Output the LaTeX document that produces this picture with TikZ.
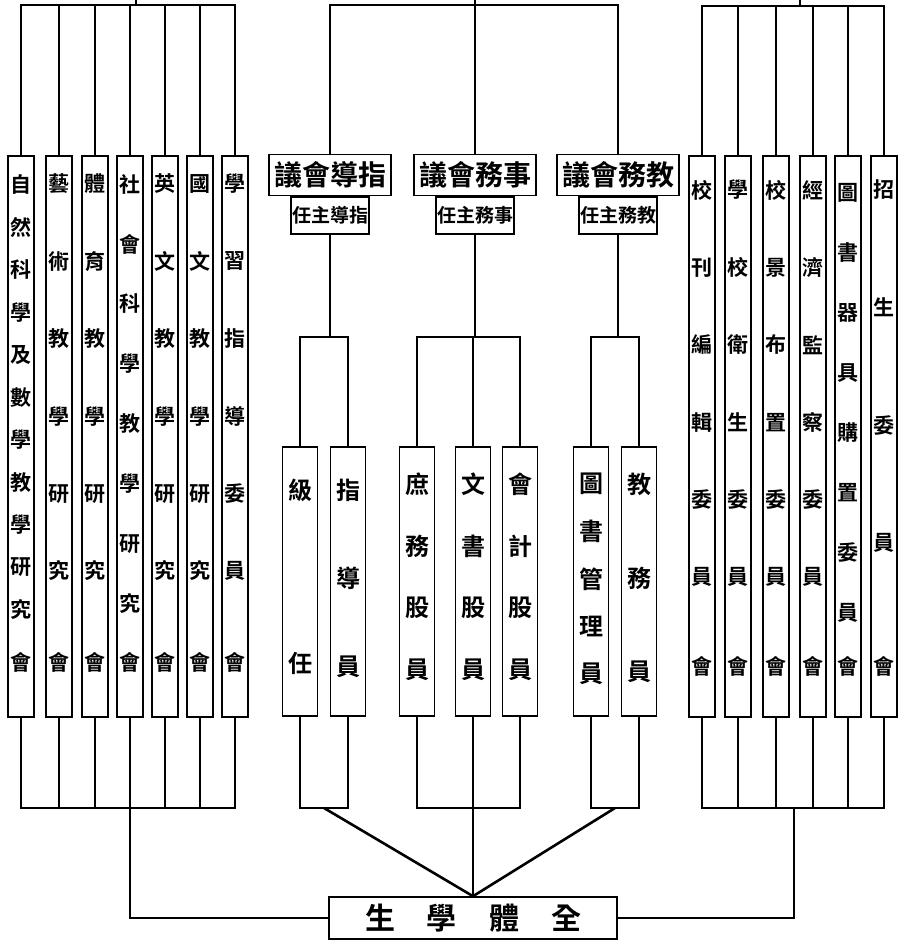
\documentclass[tikz,border=0pt]{standalone}
\usepackage{fontspec}
\setmainfont{Noto Sans CJK TC}[BoldFont={Noto Sans CJK TC Bold}]
\tikzset{
  colbox/.style={draw, line width=0.8pt, minimum width=13pt, minimum height=280.5pt, inner sep=0pt},
  midbox/.style={draw, line width=0.8pt, minimum width=17.5pt, minimum height=134.5pt, inner sep=0pt},
  hallbox/.style={draw, line width=0.8pt, minimum width=61pt, minimum height=20.5pt, inner sep=0pt, font=\fontsize{14pt}{14pt}\selectfont\bfseries},
  chairbox/.style={draw, line width=0.8pt, minimum width=39pt, minimum height=18.5pt, inner sep=0pt, anchor=north, font=\fontsize{9.5pt}{9.5pt}\selectfont\bfseries},
  glyph/.style={inner sep=0pt, font=\fontsize{10.5pt}{10.5pt}\selectfont\bfseries},
  midglyph/.style={inner sep=0pt, font=\fontsize{12pt}{12pt}\selectfont\bfseries},
  link/.style={line width=0.8pt},
  spoke/.style={line width=1.3pt},
}

\begin{document}
\begin{tikzpicture}[x=0.5pt, y=-0.5pt]
\useasboundingbox (0,0) rectangle (900,940);

% left committees
\node[colbox] (l1) at (21,436.5) {};
\node[colbox] (l2) at (59,436.5) {};
\node[colbox] (l3) at (95,436.5) {};
\node[colbox] (l4) at (130,436.5) {};
\node[colbox] (l5) at (165,436.5) {};
\node[colbox] (l6) at (200,436.5) {};
\node[colbox] (l7) at (235,436.5) {};

\foreach \ch [count=\k] in {自,然,科,學,及,數,學,教,學,研,究}
  \node[glyph] (l1-\k) at (21,{185+(\k-1)*42.5}) {\ch};
\foreach \ch [count=\k] in {藝,術,教,學,研,究}
  \node[glyph] (l2-\k) at (59,{184+(\k-1)*77.4}) {\ch};
\foreach \ch [count=\k] in {體,育,教,學,研,究}
  \node[glyph] (l3-\k) at (95,{184+(\k-1)*77.4}) {\ch};
\foreach \ch [count=\k] in {社,會,科,學,教,學,研,究}
  \node[glyph] (l4-\k) at (130,{184+(\k-1)*60}) {\ch};
\foreach \ch [count=\k] in {英,文,教,學,研,究}
  \node[glyph] (l5-\k) at (165,{184+(\k-1)*77.4}) {\ch};
\foreach \ch [count=\k] in {國,文,教,學,研,究}
  \node[glyph] (l6-\k) at (200,{184+(\k-1)*77.4}) {\ch};
\foreach \ch [count=\k] in {學,習,指,導,委,員}
  \node[glyph] (l7-\k) at (235,{184+(\k-1)*77.4}) {\ch};
\foreach \n/\x in {1/21,2/59,3/95,4/130,5/165,6/200,7/235}
  \node[glyph] (l\n-z) at (\x,662) {會};

% three councils and their heads
\node[hallbox] (h1) at (330,175) {議會導指};
\node[hallbox] (h2) at (475,175) {議會務事};
\node[hallbox] (h3) at (618,175) {議會務教};
\node[chairbox] (c1) at (h1.south) {任主導指};
\node[chairbox] (c2) at (h2.south) {任主務事};
\node[chairbox] (c3) at (h3.south) {任主務教};

% officers
\node[midbox] (m1) at (300,581.5) {};
\node[midbox] (m2) at (348,581.5) {};
\node[midbox] (m3) at (417,581.5) {};
\node[midbox] (m4) at (473,581.5) {};
\node[midbox] (m5) at (520,581.5) {};
\node[midbox] (m6) at (591,581.5) {};
\node[midbox] (m7) at (639,581.5) {};

\foreach \ch [count=\k] in {級,任}
  \node[midglyph] (m1-\k) at (300,{490+(\k-1)*173}) {\ch};
\foreach \ch [count=\k] in {指,導,員}
  \node[midglyph] (m2-\k) at (348,{490+(\k-1)*88.5}) {\ch};
\foreach \ch [count=\k] in {庶,務,股,員}
  \node[midglyph] (m3-\k) at (417,{484+(\k-1)*62}) {\ch};
\foreach \ch [count=\k] in {文,書,股,員}
  \node[midglyph] (m4-\k) at (473,{484+(\k-1)*62}) {\ch};
\foreach \ch [count=\k] in {會,計,股,員}
  \node[midglyph] (m5-\k) at (520,{484+(\k-1)*62}) {\ch};
\foreach \ch [count=\k] in {圖,書,管,理,員}
  \node[midglyph] (m6-\k) at (591,{484+(\k-1)*47.5}) {\ch};
\foreach \ch [count=\k] in {教,務,員}
  \node[midglyph] (m7-\k) at (639,{484+(\k-1)*94}) {\ch};

% right committees
\node[colbox] (r1) at (702,436.5) {};
\node[colbox] (r2) at (738,436.5) {};
\node[colbox] (r3) at (776,436.5) {};
\node[colbox] (r4) at (813,436.5) {};
\node[colbox] (r5) at (848,436.5) {};
\node[colbox] (r6) at (884,436.5) {};

\foreach \ch [count=\k] in {校,刊,編,輯,委,員}
  \node[glyph] (r1-\k) at (702,{190+(\k-1)*77.4}) {\ch};
\foreach \ch [count=\k] in {學,校,衛,生,委,員}
  \node[glyph] (r2-\k) at (738,{190+(\k-1)*77.4}) {\ch};
\foreach \ch [count=\k] in {校,景,布,置,委,員}
  \node[glyph] (r3-\k) at (776,{190+(\k-1)*77.4}) {\ch};
\foreach \ch [count=\k] in {經,濟,監,察,委,員}
  \node[glyph] (r4-\k) at (813,{190+(\k-1)*77.4}) {\ch};
\foreach \ch [count=\k] in {圖,書,器,具,購,置,委,員}
  \node[glyph] (r5-\k) at (848,{193+(\k-1)*60}) {\ch};
\foreach \ch [count=\k] in {招,生,委,員}
  \node[glyph] (r6-\k) at (884,{190+(\k-1)*117.7}) {\ch};
\foreach \n/\x in {1/702,2/738,3/776,4/813,5/848,6/884}
  \node[glyph] (r\n-z) at (\x,666) {會};

% the whole student body
\node[draw, line width=0.8pt, minimum width=144pt, minimum height=21pt, inner sep=0pt,
      font=\fontsize{15pt}{15pt}\selectfont\bfseries] (all) at (473,918) {生\hspace{16pt}學\hspace{16pt}體\hspace{16pt}全};

% top buses
\coordinate (lbus) at (136,5);
\coordinate (ltip) at (136,0);
\coordinate (mbus) at (475,5);
\coordinate (mtip) at (475,0);
\coordinate (rbus) at (800,6);
\coordinate (rtip) at (800,0);
\draw[link] (lbus) -- (ltip);
\draw[link] (mbus) -- (mtip);
\draw[link] (rbus) -- (rtip);
\foreach \n in {1,...,7} \draw[link] (l\n.north) |- (lbus);
\foreach \n in {1,...,6} \draw[link] (r\n.north) |- (rbus);
\draw[link] (h1.north) |- (mbus);
\draw[link] (h3.north) |- (mbus);
\draw[link] (h2.north) -- (mbus);

% councils to officers
\coordinate (g1) at (330,337);
\coordinate (g2) at (473,337);
\coordinate (g3) at (618,337);
\draw[link] (c1.south) -- (g1);
\draw[link] (c2.south) -- (c2.south |- g2) -- (g2);
\draw[link] (c3.south) -- (g3);
\draw[link] (m1.north) |- (g1);
\draw[link] (m2.north) |- (g1);
\draw[link] (m3.north) |- (g2);
\draw[link] (m4.north) -- (g2);
\draw[link] (m5.north) |- (g2);
\draw[link] (m6.north) |- (g3);
\draw[link] (m7.north) |- (g3);

% bottom buses
\coordinate (lsum) at (130,808);
\coordinate (rsum) at (794,808);
\coordinate (k1) at (324,808);
\coordinate (k2) at (473,808);
\coordinate (k3) at (615,808);
\foreach \n in {1,...,7} \draw[link] (l\n.south) |- (lsum);
\foreach \n in {1,...,6} \draw[link] (r\n.south) |- (rsum);
\draw[link] (m1.south) |- (k1);
\draw[link] (m2.south) |- (k1);
\draw[link] (m3.south) |- (k2);
\draw[link] (m5.south) |- (k2);
\draw[link] (m6.south) |- (k3);
\draw[link] (m7.south) |- (k3);

% down to the student body
\draw[link] (lsum) |- (all.west);
\draw[link] (rsum) |- (all.east);
\draw[link] (m4.south) -- (all.north);
\draw[spoke] (k1) -- (all.north);
\draw[spoke] (k3) -- (all.north);

\end{tikzpicture}
\end{document}
